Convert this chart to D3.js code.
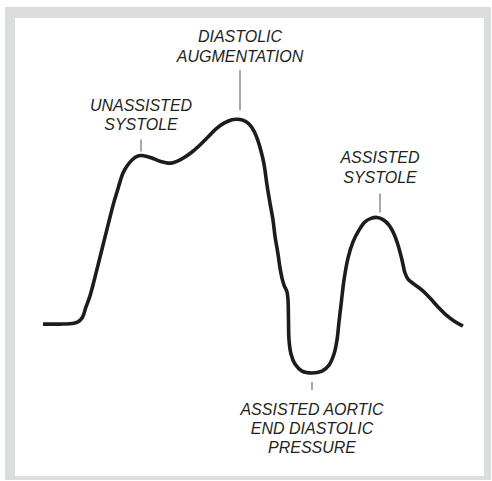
<!DOCTYPE html>
<html>
<head>
<meta charset="utf-8">
<script src="https://cdn.jsdelivr.net/npm/d3@7"></script>
<style>
  html, body { margin: 0; padding: 0; background: #ffffff; }
  svg { display: block; }
</style>
</head>
<body>
<div id="chart"></div>
<script>
// Time (ms) along the waveform
const timeMs = [0,17,29,35,39,43,47,52,57,62,67,71,74,77,80,84,89,94,98,103,109,115,122,128,135,142,149,157,165,173,181,189,195,201,206,211,215,218,221,224,227,230,232,235,237,239,241,244,245,245.5,246,248,252,259,269,279,286,291,294,296,298,301,305,310,316,322,328,334,340,346,351,355,359,362,365,371,379,387,395,403,411,420];
// Arterial pressure (mmHg) at each time
const pressure = [55.4,55.4,55.6,56.1,57.3,60.8,64.3,70.2,76.5,82.8,89.1,93.9,97.0,100.2,103.0,105.2,107.1,108.2,108.5,108.3,107.7,106.9,106.3,106.1,106.8,108.0,109.6,111.8,114.3,116.9,118.7,119.8,119.9,119.5,118.4,116.2,113.1,109.9,105.8,99.2,93.5,88.2,83.1,77.5,73.1,69.9,67.7,65.5,63.0,56.7,50.4,46.0,42.8,40.6,40.0,40.6,42.5,46.0,50.4,56.1,61.4,69.3,76.2,81.3,85.0,87.6,88.7,89.0,88.3,86.6,83.8,80.3,75.6,71.5,69.6,68.0,66.1,63.6,60.8,58.3,56.4,54.8];

// Annotations
const labelLines = [
  ["UNASSISTED", "SYSTOLE"],
  ["DIASTOLIC", "AUGMENTATION"],
  ["ASSISTED", "SYSTOLE"],
  ["ASSISTED AORTIC", "END DIASTOLIC", "PRESSURE"]
];
const labelTime = [98, 197, 337, 269];
const labelPressure = [108.5, 119.9, 89.0, 40.0];
const labelSide = ["above", "above", "above", "below"];

const W = 492, H = 481;
const svg = d3.select("#chart").append("svg").attr("width", W).attr("height", H);

// frame
svg.append("rect").attr("x", 5).attr("y", 7).attr("width", 486).attr("height", 473).attr("fill", "#dcdddf");
svg.append("rect").attr("x", 15).attr("y", 18).attr("width", 469).attr("height", 458).attr("fill", "#ffffff");

const x = d3.scaleLinear().domain([0, 420]).range([43, 463]);
const y = d3.scaleLinear().domain([40, 120]).range([373, 119]);

const pts = timeMs.map((t, i) => [t, pressure[i]]);
const line = d3.line()
  .x(d => x(d[0]))
  .y(d => y(d[1]))
  .curve(d3.curveCatmullRom.alpha(0.5));

svg.append("path")
  .attr("d", line(pts))
  .attr("fill", "none")
  .attr("stroke", "#1e1b1c")
  .attr("stroke-width", 3.6)
  .attr("stroke-linecap", "butt")
  .attr("stroke-linejoin", "round");

// leader lines + labels
const leaderSpec = [
  {gap: 4, len: 12, textBase: 45},   // unassisted systole
  {gap: 9, len: 40, textBase: 77},   // diastolic augmentation
  {gap: 5, len: 19, textBase: 54},   // assisted systole
  {gap: 9, len: 8, textBase: 42}     // AEDP
];
const lineH = 19.5;
const font = "'Liberation Sans', Arial, Helvetica, sans-serif";

labelLines.forEach((lines, i) => {
  const cx = x(labelTime[i]);
  const py = y(labelPressure[i]);
  const s = leaderSpec[i];
  const g = svg.append("g");
  const above = labelSide[i] === "above";
  const dir = above ? -1 : 1;
  g.append("line")
    .attr("x1", cx).attr("x2", cx)
    .attr("y1", py + dir * s.gap).attr("y2", py + dir * (s.gap + s.len))
    .attr("stroke", "#8c8c8c").attr("stroke-width", 1.5);
  const firstBase = py + dir * s.textBase;
  const step = above ? lineH : 19;
  lines.forEach((t, j) => {
    g.append("text")
      .attr("x", cx).attr("y", firstBase + j * step)
      .attr("text-anchor", "middle")
      .attr("font-family", font)
      .attr("font-style", "italic")
      .attr("font-size", 16)
      .attr("fill", "#231f20")
      .text(t);
  });
});
</script>
</body>
</html>
